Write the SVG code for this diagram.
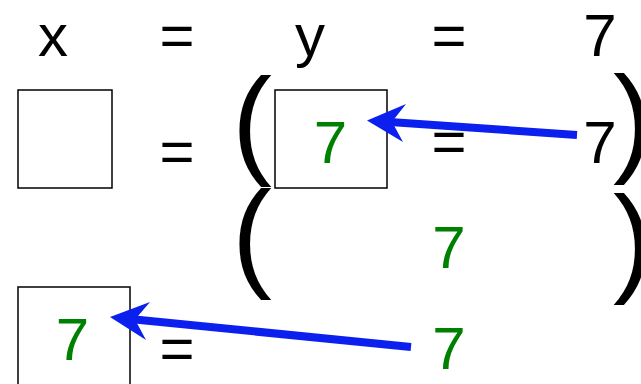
<svg xmlns="http://www.w3.org/2000/svg" width="641" height="384" viewBox="0 0 641 384">
  <style>
    text { font-family: "Liberation Sans", Arial, sans-serif; font-size: 60px; text-anchor: middle; fill: #000; }
    .g { fill: #008000; }
    .p { font-size: 120px; }
    .box { fill: none; stroke: #000; stroke-width: 1.5; }
    .arrow { stroke: #0b1fee; stroke-width: 8; fill: none; }
    .head { fill: #0b1fee; }
  </style>
  <rect width="641" height="384" fill="#fff"/>
  <g id="row1">
    <text x="53" y="56">x</text>
    <text x="177" y="56">=</text>
    <text x="310" y="56">y</text>
    <text x="449" y="56">=</text>
    <text x="600" y="56">7</text>
  </g>
  <g id="box-x">
    <rect class="box" x="18" y="90" width="94" height="98"/>
  </g>
  <g id="eq2"><text x="177" y="172">=</text></g>
  <g id="parens">
    <text class="p" x="252" y="162">(</text>
    <text class="p" x="252" y="275">(</text>
    <text class="p" x="633" y="160">)</text>
    <text class="p" x="633" y="280">)</text>
  </g>
  <g id="box-y">
    <rect class="box" x="275" y="90" width="112" height="98"/>
    <text class="g" x="330.5" y="163">7</text>
  </g>
  <g id="eq3"><text x="449" y="162">=</text></g>
  <g id="seven-black"><text x="600" y="163">7</text></g>
  <g id="seven-mid"><text class="g" x="449" y="268">7</text></g>
  <g id="box-bottom">
    <rect class="box" x="18" y="287" width="112" height="100"/>
    <text class="g" x="72.5" y="360">7</text>
  </g>
  <g id="eq4"><text x="177" y="369">=</text></g>
  <g id="seven-bottom"><text class="g" x="449" y="369">7</text></g>
  <g id="connectors">
    <line class="arrow" x1="577" y1="135" x2="390" y2="122"/>
    <polygon class="head" points="367,120.5 406,104 392,121.8 403,142"/>
    <line class="arrow" x1="411" y1="347" x2="135" y2="319.5"/>
    <polygon class="head" points="110,317 150,302 135,319.5 146,340"/>
  </g>
</svg>
